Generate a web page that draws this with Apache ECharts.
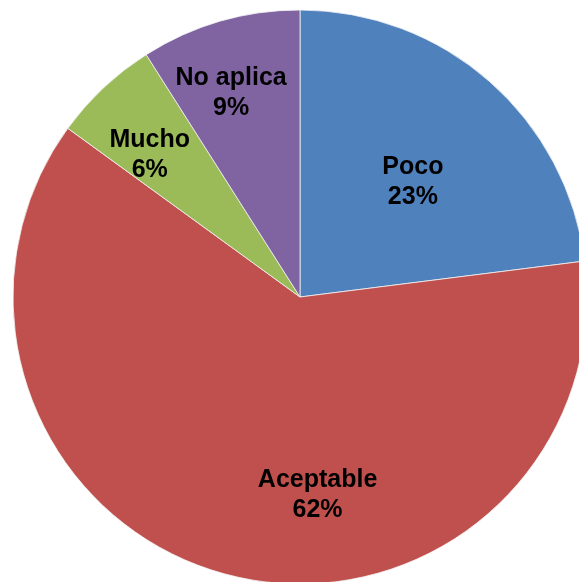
<!DOCTYPE html>
<html>
<head>
<meta charset="utf-8">
<script src="https://cdn.jsdelivr.net/npm/echarts@6/dist/echarts.min.js"></script>
<style>
  html, body { margin: 0; padding: 0; background: #fff; }
  #chart { width: 579px; height: 582px; }
</style>
</head>
<body>
<div id="chart"></div>
<script>
// Respuestas por categoría (porcentaje)
const categories = ['Poco', 'Aceptable', 'Mucho', 'No aplica'];
const values = [23, 62, 6, 9];
const colors = ['#4F81BD', '#C0504D', '#9BBB59', '#8064A2'];
// Desplazamiento de cada etiqueta respecto a su posición interior por defecto
const labelNudge = [[16, -5], [54, 56], [-50, -35], [-28, -63]];

const chart = echarts.init(document.getElementById('chart'), null, { renderer: 'canvas' });

chart.setOption({
  animation: false,
  backgroundColor: '#ffffff',
  series: [{
    type: 'pie',
    center: [300, 297],
    radius: 287,
    startAngle: 90,
    clockwise: true,
    percentPrecision: 0,
    emphasis: { disabled: true },
    itemStyle: { borderColor: '#f4f4f4', borderWidth: 0.8 },
    label: {
      show: true,
      position: 'inside',
      formatter: '{b}\n{d}%',
      fontFamily: '"Liberation Sans", Arial, sans-serif',
      fontWeight: 'bold',
      fontSize: 25,
      lineHeight: 30,
      color: '#000000',
      align: 'center'
    },
    labelLine: { show: false },
    labelLayout: function (p) {
      const n = labelNudge[p.dataIndex];
      return { dx: n[0], dy: n[1] };
    },
    data: categories.map((c, i) => ({
      name: c,
      value: values[i],
      itemStyle: { color: colors[i] }
    }))
  }]
});
</script>
</body>
</html>
